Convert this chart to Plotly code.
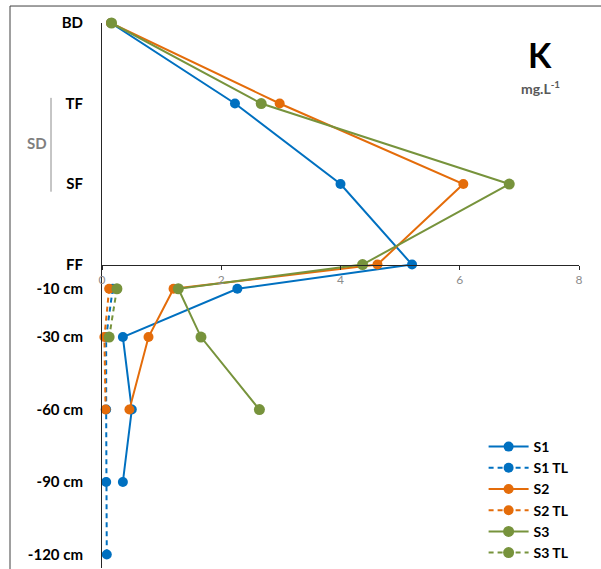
import plotly.graph_objects as go

# depth levels (numeric positions on the depth axis) and their labels
level_labels = ["BD", "TF", "SF", "FF", "-10 cm", "-30 cm", "-60 cm", "-90 cm", "-120 cm"]
level_pos = [100, 66.67, 33.33, 0, -10, -30, -60, -90, -120]

# K concentrations (mg.L-1)
s1_levels = ["BD", "TF", "SF", "FF", "-10 cm", "-30 cm", "-60 cm", "-90 cm"]
s1_values = [0.15, 2.23, 4.0, 5.2, 2.27, 0.35, 0.5, 0.35]

s1tl_levels = ["-10 cm", "-30 cm", "-60 cm", "-90 cm", "-120 cm"]
s1tl_values = [0.18, 0.07, 0.07, 0.07, 0.08]

s2_levels = ["BD", "TF", "SF", "FF", "-10 cm", "-30 cm", "-60 cm"]
s2_values = [0.15, 2.98, 6.06, 4.62, 1.2, 0.78, 0.46]

s2tl_levels = ["-10 cm", "-30 cm", "-60 cm"]
s2tl_values = [0.12, 0.04, 0.06]

s3_levels = ["BD", "TF", "SF", "FF", "-10 cm", "-30 cm", "-60 cm"]
s3_values = [0.16, 2.67, 6.83, 4.37, 1.28, 1.66, 2.64]

s3tl_levels = ["-10 cm", "-30 cm"]
s3tl_values = [0.25, 0.12]

x_ticks = [0, 2, 4, 6, 8]

pos = dict(zip(level_labels, level_pos))
FONT = "Lato"
BLUE = "#0070C0"
ORANGE = "#E46C0A"
GREEN = "#77933C"

fig = go.Figure()

def add(name, levels, values, color, dashed, msize):
    fig.add_trace(go.Scatter(
        x=values, y=[pos[l] for l in levels], name=name,
        mode="lines+markers",
        line=dict(color=color, width=2, dash="5px,4px" if dashed else "solid"),
        marker=dict(color=color, size=msize, line=dict(width=0)),
        cliponaxis=False, hoverinfo="skip",
    ))

add("S1", s1_levels, s1_values, BLUE, False, 10)
add("S1 TL", s1tl_levels, s1tl_values, BLUE, True, 10)
add("S2", s2_levels, s2_values, ORANGE, False, 10)
add("S2 TL", s2tl_levels, s2tl_values, ORANGE, True, 10)
add("S3", s3_levels, s3_values, GREEN, False, 11)
add("S3 TL", s3tl_levels, s3tl_values, GREEN, True, 11)

y_lo, y_hi = -125.6, 100
xpos = (0 - y_lo) / (y_hi - y_lo)

fig.update_layout(
    width=601, height=569,
    margin=dict(l=102, r=22, t=23, b=0),
    paper_bgcolor="white", plot_bgcolor="white",
    font=dict(family=FONT),
    showlegend=True,
    legend=dict(
        x=0.80, y=0.252, xanchor="left", yanchor="top",
        font=dict(family=FONT, size=14, color="black", weight="bold"),
        bgcolor="rgba(0,0,0,0)", tracegroupgap=0, itemwidth=40,
    ),
    xaxis=dict(
        range=[0, 8], tickvals=x_ticks, ticktext=[str(v) for v in x_ticks],
        anchor="free", position=xpos, side="bottom",
        showline=True, linecolor="#262626", linewidth=1,
        ticks="outside", ticklen=4, tickcolor="#262626",
        showgrid=False, zeroline=False,
        tickfont=dict(family=FONT, size=12, color="#8c8c8c"),
    ),
    yaxis=dict(
        range=[y_lo, y_hi], tickvals=level_pos, ticktext=level_labels,
        showline=True, linecolor="#262626", linewidth=1,
        ticks="", showgrid=False, zeroline=False,
        ticklabelstandoff=15,
        tickfont=dict(family=FONT, size=15, color="black", weight="bold"),
    ),
)

def px_x(p):
    return (p - 102) / 477.0

def px_y(p):
    return (569 - p) / 546.0

# chart border (left and top)
fig.add_shape(type="line", xref="paper", yref="paper", x0=px_x(10), x1=px_x(10), y0=px_y(6), y1=px_y(600),
              line=dict(color="#404040", width=1))
fig.add_shape(type="line", xref="paper", yref="paper", x0=px_x(10), x1=px_x(620), y0=px_y(6), y1=px_y(6),
              line=dict(color="#404040", width=1))
# SD bracket
fig.add_shape(type="line", xref="paper", yref="paper", x0=px_x(51), x1=px_x(51), y0=px_y(98), y1=px_y(192),
              line=dict(color="#8c8c8c", width=1))
fig.add_annotation(text="SD", xref="paper", yref="paper", x=px_x(37), y=px_y(143), showarrow=False,
                   xanchor="center", yanchor="middle",
                   font=dict(family=FONT, size=15, color="#7f7f7f", weight="bold"))
fig.add_annotation(text="K", xref="paper", yref="paper", x=px_x(540), y=px_y(55), showarrow=False,
                   xanchor="center", yanchor="middle",
                   font=dict(family=FONT, size=34, color="black", weight="bold"))
fig.add_annotation(text="mg.L<sup>-1</sup>", xref="paper", yref="paper", x=px_x(540), y=px_y(88), showarrow=False,
                   xanchor="center", yanchor="middle",
                   font=dict(family=FONT, size=14, color="#595959", weight="bold"))

fig.write_html("out.html", config={"displayModeBar": False},
               post_script="document.body.style.margin='0px';")
